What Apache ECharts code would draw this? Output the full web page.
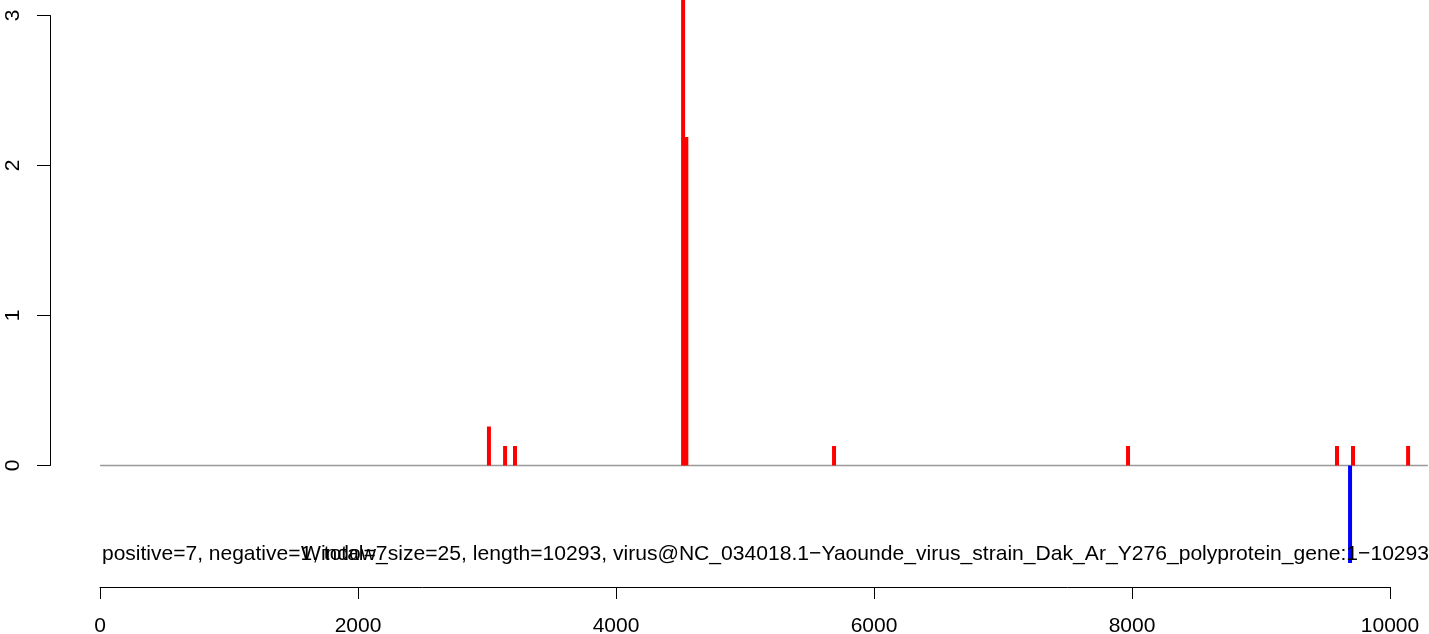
<!DOCTYPE html>
<html>
<head>
<meta charset="utf-8">
<script src="https://cdn.jsdelivr.net/npm/echarts@6/dist/echarts.min.js"></script>
<style>
html,body{margin:0;padding:0;background:#fff;}
#chart{width:1429px;height:634px;}
</style>
</head>
<body>
<div id="chart"></div>
<script>
// ---- data ----
const posX = [3015, 3140, 3217, 4520, 4545, 5690, 7969, 9589, 9713, 10140];
const posY = [0.26, 0.13, 0.13, 3.6, 2.19, 0.13, 0.13, 0.13, 0.13, 0.13];
const negX = [9690];
const negY = [-0.65];
const xTicks = [0, 2000, 4000, 6000, 8000, 10000];
const yTicks = [0, 1, 2, 3];
const baseStart = 1, baseEnd = 10293;
const label1 = 'positive=7, negative=1, total=7';
const label2 = 'Window_size=25, length=10293, virus@NC_034018.1\u2212Yaounde_virus_strain_Dak_Ar_Y276_polyprotein_gene:1\u221210293';

const FONT = 'Liberation Sans, Arial, Helvetica, sans-serif';
const FS = 21;

const barData = posX.map((x, i) => ({value: [x, posY[i]], itemStyle: {color: '#ff0000'}}))
  .concat(negX.map((x, i) => ({value: [x, negY[i]], itemStyle: {color: '#0000ff'}})));

const chart = echarts.init(document.getElementById('chart'), null, {renderer: 'canvas'});
chart.setOption({
  animation: false,
  backgroundColor: '#ffffff',
  grid: [
    {left: 100, right: 0, top: 0, height: 563, containLabel: false},
    {left: 100, width: 1290, top: 587, height: 0, containLabel: false},
    {left: 50, width: 0, top: 15.5, height: 450, containLabel: false}
  ],
  xAxis: [
    {gridIndex: 0, type: 'value', min: 0, max: 10302, show: false},
    {gridIndex: 1, type: 'value', min: xTicks[0], max: xTicks[xTicks.length - 1], interval: 2000,
     axisLine: {show: true, lineStyle: {color: '#000', width: 1}},
     axisTick: {show: true, length: 12, lineStyle: {color: '#000', width: 1}},
     axisLabel: {show: true, color: '#000', fontSize: FS, fontFamily: FONT, margin: 29,
       formatter: v => xTicks.includes(v) ? String(v) : ''},
     splitLine: {show: false}},
    {gridIndex: 2, type: 'value', min: 0, max: 1, show: false}
  ],
  yAxis: [
    {gridIndex: 0, type: 'value', min: -0.65, max: 3.1033, show: false},
    {gridIndex: 1, type: 'value', min: 0, max: 1, show: false},
    {gridIndex: 2, type: 'value', min: yTicks[0], max: yTicks[yTicks.length - 1], interval: 1,
     axisLine: {show: true, lineStyle: {color: '#000', width: 1}},
     axisTick: {show: true, length: 13, lineStyle: {color: '#000', width: 1}},
     axisLabel: {show: true, color: '#000', fontSize: FS, fontFamily: FONT, rotate: 90, margin: 26,
       formatter: v => String(v)},
     splitLine: {show: false}}
  ],
  series: [
    {type: 'line', xAxisIndex: 0, yAxisIndex: 0, data: [[baseStart, 0], [baseEnd, 0]],
     symbol: 'none', lineStyle: {color: '#999999', width: 1.5}, silent: true, z: 1},
    {type: 'bar', xAxisIndex: 0, yAxisIndex: 0, data: barData, barWidth: 4, clip: true, z: 2}
  ],
  graphic: [
    {type: 'text', left: 102, top: 544, z: 10,
     style: {text: label1, fill: '#000', font: FS + 'px ' + FONT}},
    {type: 'text', left: 301, top: 544, z: 10,
     style: {text: label2, fill: '#000', font: '21.1px ' + FONT}}
  ]
});
</script>
</body>
</html>
